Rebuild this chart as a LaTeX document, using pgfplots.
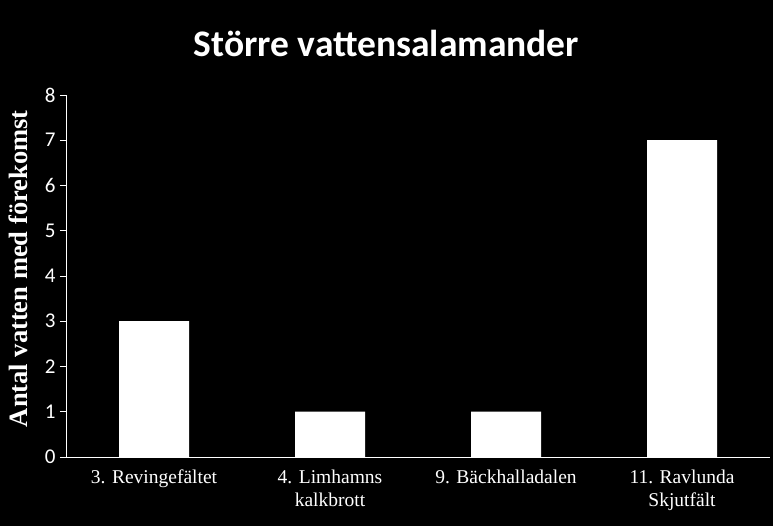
\documentclass[border=0pt]{standalone}
\usepackage{fontspec}
\setmainfont{Liberation Serif}
\newfontfamily\calibri{Carlito}
\usepackage{pgfplots}
\pgfplotsset{compat=1.18}
\begin{document}
\begin{tikzpicture}[x=1pt,y=1pt]
\fill[black] (-66,-69) rectangle (707,457);
\path[use as bounding box] (-66,-69) rectangle (707,457);
\node[white, font=\calibri\bfseries\fontsize{37.5}{44}\selectfont] at (320.5,414) {Större vattensalamander};
\begin{axis}[
  at={(0,0)}, anchor=south west,
  scale only axis, width=704pt, height=362pt,
  ybar, bar width=70pt,
  xmin=-0.5, xmax=3.5, ymin=0, ymax=8,
  axis lines*=left,
  axis line style={white, line width=0.8pt},
  every tick/.style={white, line width=0.8pt},
  tick align=outside,
  ytick={0,1,...,8},
  major tick length=6pt,
  xtick={0,1,2,3},
  xticklabels={{3. Revingefältet},{4. Limhamns\\kalkbrott},{9. Bäckhalladalen},{11. Ravlunda\\Skjutfält}},
  x tick style={draw=none},
  minor xtick={-0.5,0.5,1.5,2.5,3.5},
  minor x tick style={white, line width=0.8pt},
  minor tick length=5pt,
  xticklabel style={white, font=\fontsize{19.5}{23}\selectfont, align=center, yshift=-3pt},
  yticklabel style={white, font=\calibri\fontsize{21}{24}\selectfont, xshift=-1pt},
  /pgf/number format/assume math mode=true,
  ylabel={Antal vatten med förekomst},
  ylabel style={white, font=\bfseries\fontsize{26.5}{30}\selectfont,
    at={(axis description cs:-0.068,0.52)}, anchor=center},
]
\addplot[fill=white, draw=none] coordinates {(0,3) (1,1) (2,1) (3,7)};
\end{axis}
\end{tikzpicture}
\end{document}
